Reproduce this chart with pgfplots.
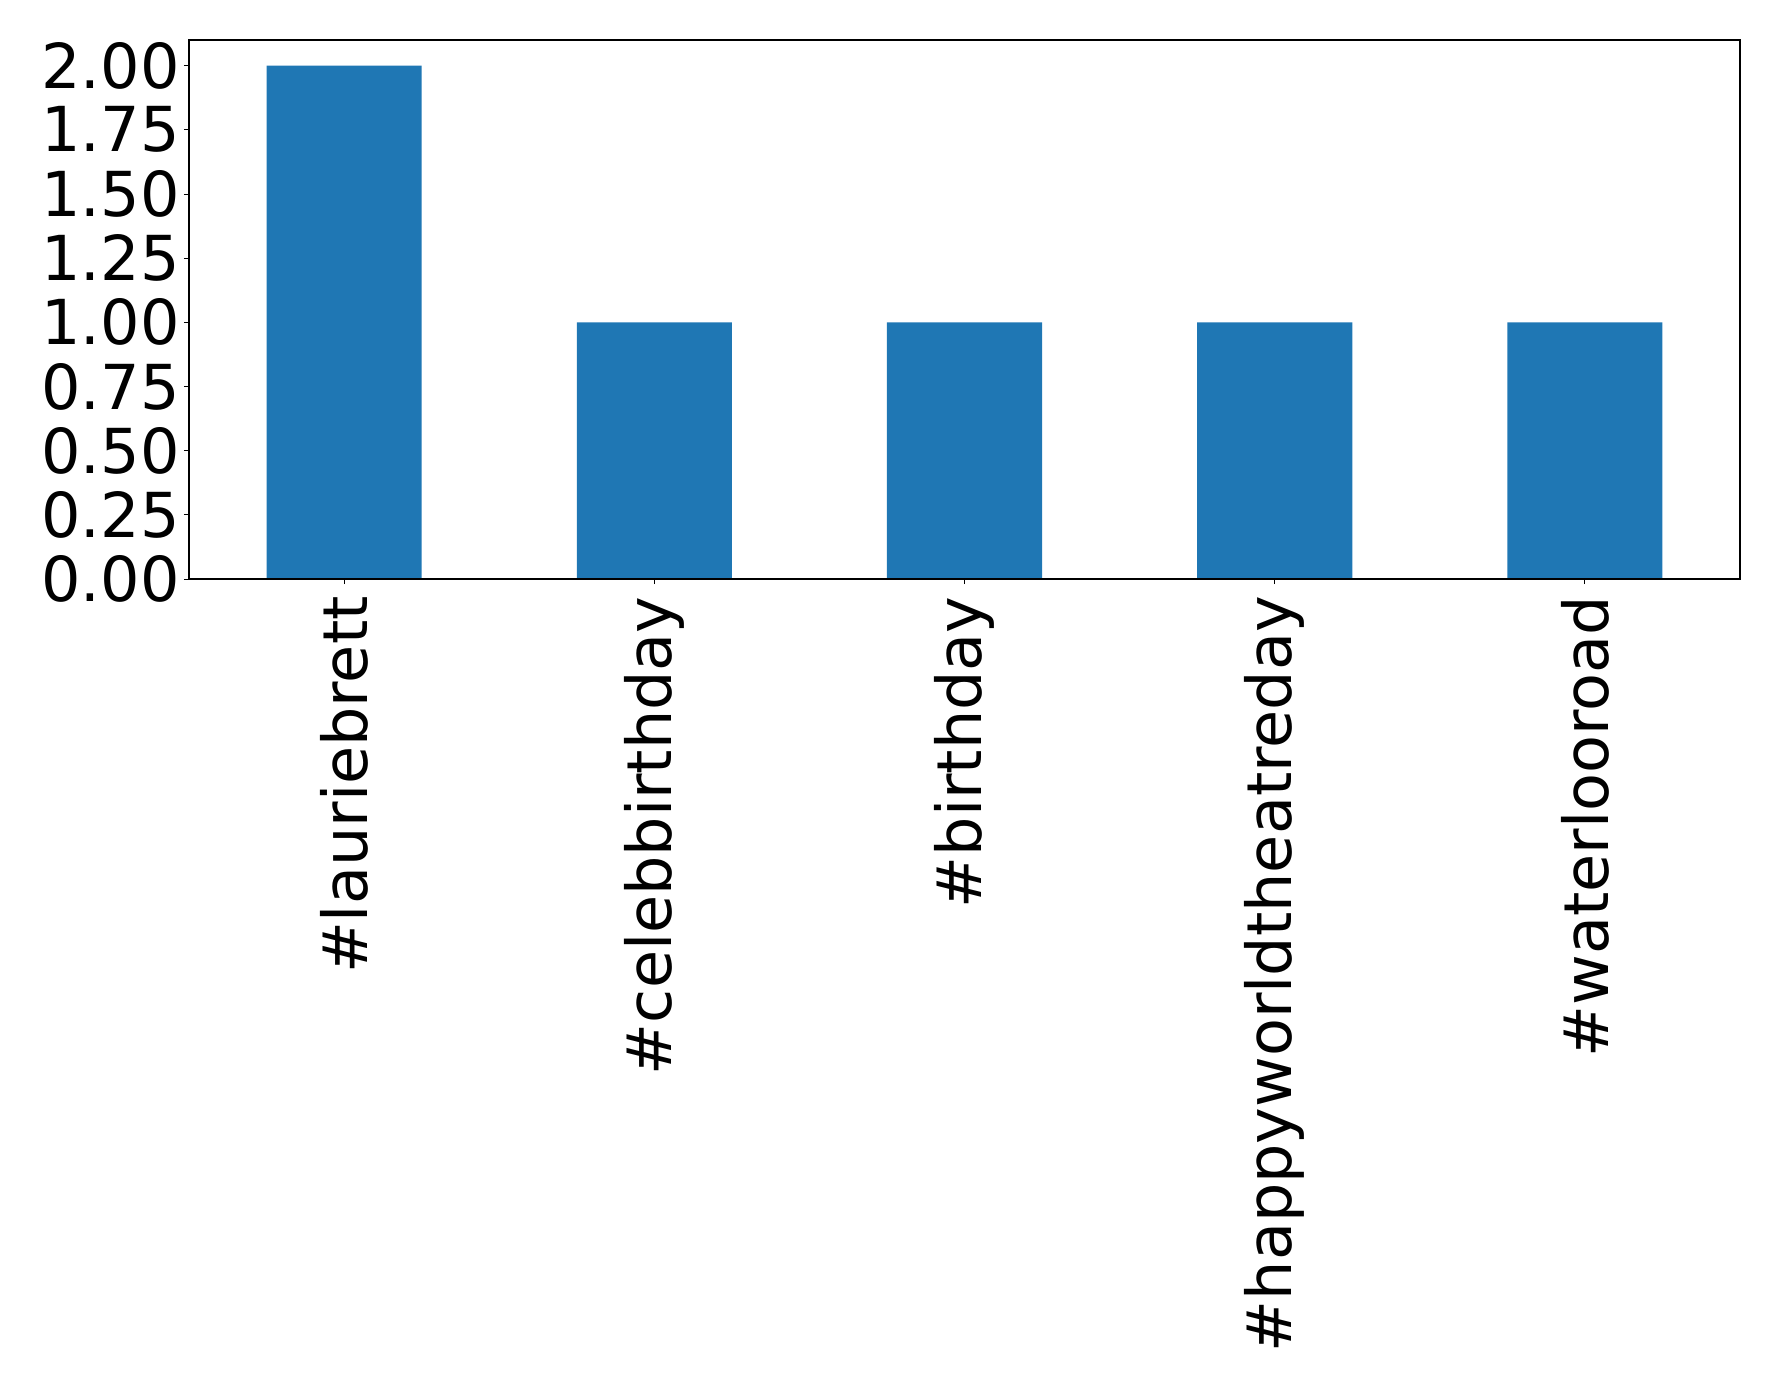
\documentclass[border=0pt]{standalone}
\usepackage{pgfplots}
\pgfplotsset{compat=1.18}
\usepackage{fontspec}
\setmainfont{DejaVu Sans}
\definecolor{tabblue}{HTML}{1F77B4}
\begin{document}
\begin{tikzpicture}
\useasboundingbox (-94.5pt,-405.5pt) rectangle (794.5pt,289.5pt);
\begin{axis}[
  at={(0,0)}, anchor=south west,
  scale only axis,
  width=775.5pt, height=269.5pt,
  xmin=-0.5, xmax=4.5,
  ymin=0, ymax=2.1,
  xtick={0,1,2,3,4},
  xticklabels={\#lauriebrett,\#celebbirthday,\#birthday,\#happyworldtheatreday,\#waterlooroad},
  ytick={0,0.25,0.5,0.75,1,1.25,1.5,1.75,2},
  yticklabel style={/pgf/number format/fixed,/pgf/number format/fixed zerofill,/pgf/number format/precision=2,/pgf/number format/assume math mode=true},
  tick label style={font=\fontsize{31}{37}\selectfont},
  xticklabel style={rotate=90, anchor=east, inner sep=6pt},
  yticklabel style={inner sep=2pt},
  tick align=outside,
  major tick length=2.5pt,
  tick style={black, line width=0.5pt},
  axis line style={black, line width=0.6pt},
  xtick pos=bottom, ytick pos=left,
  axis on top,
]
\addplot[ybar, bar width=0.5, fill=tabblue, draw=none] coordinates {(0,2) (1,1) (2,1) (3,1) (4,1)};
\end{axis}
\end{tikzpicture}
\end{document}
